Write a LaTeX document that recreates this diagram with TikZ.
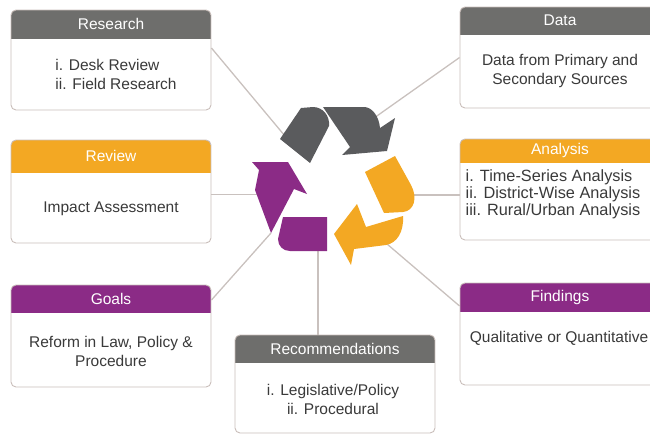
\documentclass[tikz,border=0pt]{standalone}
\usepackage{fontspec}
\setmainfont{Liberation Sans}
\usepackage{xcolor}
\usepackage{tikz}

\definecolor{headgray}{HTML}{6E6E6C}
\definecolor{arrowgray}{HTML}{5A5B5D}
\definecolor{amber}{HTML}{F3A823}
\definecolor{plum}{HTML}{8B2B86}
\definecolor{cardline}{HTML}{C9BEBA}
\definecolor{linkline}{HTML}{C9C1BE}
\definecolor{bodyink}{HTML}{3A3A3A}

\tikzset{
	card/.style 2 args={draw=cardline, line width=.9pt, fill=white, rounded corners=5pt,
		minimum width=200pt, minimum height=100pt, inner sep=0pt,
		path picture={\fill[#1, sharp corners] (path picture bounding box.north west) rectangle ([yshift=-#2]path picture bounding box.north east);}},
	cardtitle/.style={text=white, font=\fontsize{15.5}{18}\selectfont, inner sep=0pt},
	cardbody/.style={text=bodyink, font=\fontsize{15.5}{19}\selectfont, inner sep=0pt, align=center},
	link/.style={draw=linkline, line width=1.3pt},
}

\begin{document}
\begin{tikzpicture}[x=1pt, y=-1pt]
	\useasboundingbox (0,0) rectangle (650,436);

	% left column
	\node[card={headgray}{29pt}] (research) at (111,60) {};
	\node[cardtitle] (researchtitle) at ([yshift=-14.5pt]research.north) {Research};
	\node[cardbody, align=left] (researchtext) at (116,74) {i. Desk Review\\ii. Field Research};

	\node[card={amber}{33pt}, minimum height=103pt] (review) at (111,191.5) {};
	\node[cardtitle] (reviewtitle) at ([yshift=-16.5pt]review.north) {Review};
	\node[cardbody] (reviewtext) at (111,209) {Impact Assessment};

	\node[card={plum}{28pt}, minimum height=102pt] (goals) at (111,336) {};
	\node[cardtitle] (goalstitle) at ([yshift=-14pt]goals.north) {Goals};
	\node[cardbody] (goalstext) at (111,351) {Reform in Law, Policy \&\\Procedure};

	% right column, cut by the page edge
	\node[card={headgray}{28pt}, minimum height=101pt] (data) at (560,57.5) {};
	\node[cardtitle] (datatitle) at ([yshift=-14pt]data.north) {Data};
	\node[cardbody] (datatext) at (560,71) {Data from Primary and\\Secondary Sources};

	\node[card={amber}{24pt}, minimum height=101pt] (analysis) at (560,189.5) {};
	\node[cardtitle] (analysistitle) at ([yshift=-12pt]analysis.north) {Analysis};
	\node[cardbody, align=left, font=\fontsize{16.3}{17}\selectfont] (analysistext) at (553,194) {i. Time-Series Analysis\\ii. District-Wise Analysis\\iii. Rural/Urban Analysis};

	\node[card={plum}{29pt}, minimum height=102pt] (findings) at (560,334) {};
	\node[cardtitle] (findingstitle) at ([yshift=-14.5pt]findings.north) {Findings};
	\node[cardbody] (findingstext) at (559,338) {Qualitative or Quantitative};

	\node[card={headgray}{28pt}, minimum height=98pt] (recs) at (335,384) {};
	\node[cardtitle] (recstitle) at ([yshift=-14pt]recs.north) {Recommendations};
	\node[cardbody] (recstext) at (333,399) {i. Legislative/Policy\\ii. Procedural};

	% spokes, ending under the arrows
	\coordinate (gtail) at (295,148);
	\coordinate (ghead) at (350,135);
	\coordinate (ytail) at (405,195);
	\coordinate (yhead) at (380,238);
	\coordinate (ptail) at (318,235);
	\coordinate (phead) at (275,194.5);
	\coordinate (pfoot) at (271,233);
	\draw[link] ([yshift=12pt]research.east) -- (gtail);
	\draw[link] (data.west) -- (ghead);
	\draw[link] ([yshift=-3pt]review.east) -- (phead);
	\draw[link] ([yshift=-5.5pt]analysis.west) -- (ytail);
	\draw[link] ([yshift=36pt]goals.east) -- (pfoot);
	\draw[link] ([yshift=28pt]findings.west) -- (yhead);
	\draw[link] ([xshift=-17pt]recs.north) -- (ptail);

	% recycling arrows
	\fill[arrowgray] (280,139) -- (301,108) -- (313,107) .. controls (323,107) and (330,116) .. (329,126) -- (310,163) -- cycle;
	\fill[arrowgray] (323,107) -- (365,107) .. controls (373,108) and (379,117) .. (380,128) -- (395,118) -- (387,151) -- (342,155) -- (350,147) -- cycle;
	\fill[amber] (365,172) -- (395,156) -- (411,185) .. controls (418,198) and (414,211) .. (403,212) -- (384,213) -- cycle;
	\fill[amber] (403,216) -- (366,227) -- (357,204) -- (334,234) -- (351,265) -- (354,249) -- (386,245) .. controls (397,243) and (404,232) .. (403,216) -- cycle;
	\fill[plum] (252,162) -- (288,162) -- (307,194) -- (294,189) -- (pfoot) -- (255,190) -- (259,170) -- cycle;
	\fill[plum] (283,217) -- (327,217) -- (327,251) -- (290,251) .. controls (283,251) and (278,246) .. (278,239) -- cycle;
%	\fill[plum] (283,217) rectangle (327,251);
\end{tikzpicture}
\end{document}
